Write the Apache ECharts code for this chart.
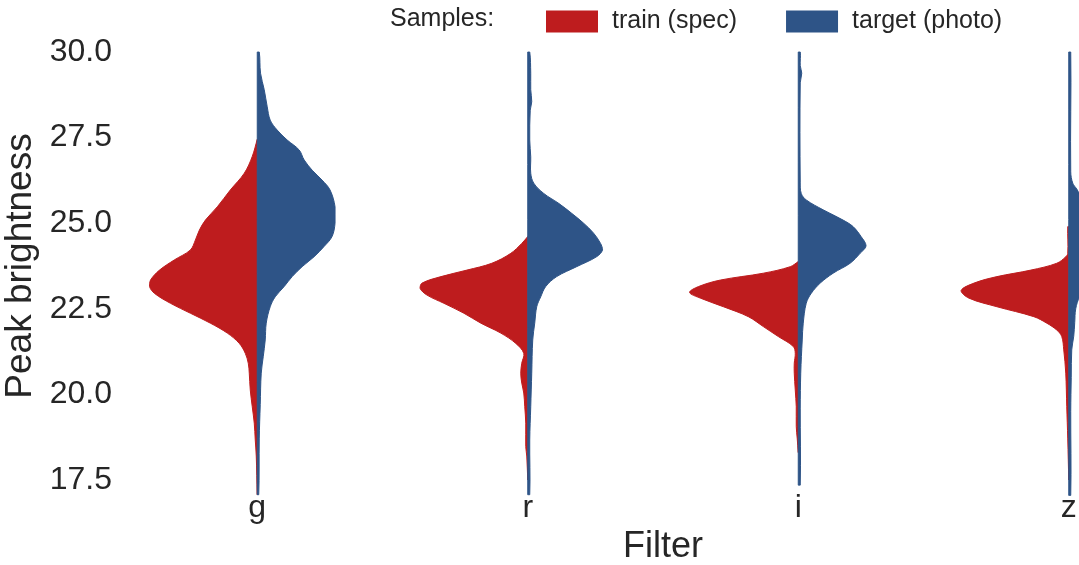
<!DOCTYPE html>
<html>
<head>
<meta charset="utf-8">
<script src="https://cdn.jsdelivr.net/npm/echarts@6.0.0/dist/echarts.min.js"></script>
<style>
  html, body { margin: 0; padding: 0; background: #fff; }
  #chart { width: 1079px; height: 565px; }
</style>
</head>
<body>
<div id="chart"></div>
<script>
// filters on the x axis
const filters = ["g", "r", "i", "z"];
const yTicks = [17.5, 20.0, 22.5, 25.0, 27.5, 30.0];

// half-violin profiles: [peak brightness, density]
const trainG = [[27.45,0],[26.95,5],[26.46,13],[25.97,27],[25.48,40],[25.09,52],[24.8,58],[24.51,62],[24.22,67],[23.93,83],[23.63,98],[23.34,107],[23.15,108],[22.95,103],[22.66,87],[22.37,67],[22.08,47],[21.79,30],[21.49,18],[21.2,12],[20.91,9],[20.62,8],[20.13,7],[19.64,5],[19.16,3],[18.67,2],[18.2,1],[17.07,0]];
const targetG = [[30.0,2],[29.38,3.3],[28.9,7],[28.4,10],[28.01,13],[27.72,20],[27.43,30],[27.14,42],[26.85,47],[26.55,55],[26.26,65],[25.97,73],[25.48,78],[25.0,78],[24.61,75],[24.32,67],[24.02,57],[23.73,45],[23.44,35],[23.15,27],[22.85,18],[22.56,13],[22.08,9],[21.59,8],[21.1,6],[20.62,4],[19.7,3],[18.7,2],[17.07,1.5]];

const trainR = [[24.61,0],[24.41,6],[24.12,17],[23.83,36],[23.63,61],[23.44,87],[23.25,106],[23.1,108],[22.9,101],[22.66,84],[22.37,64],[22.08,47],[21.79,27],[21.49,12],[21.2,4],[20.91,6],[20.62,7],[20.33,6],[20.04,4],[19.64,3],[19.16,2],[18.48,2],[18.2,1],[17.5,0]];
const targetR = [[30.0,2],[29.38,3],[28.9,3],[28.55,4],[28.3,2.5],[27.43,2],[26.94,3],[26.46,3],[26.17,6],[25.87,16],[25.58,31],[25.29,44],[25.0,56],[24.71,66],[24.41,73],[24.22,75],[24.02,69],[23.73,49],[23.44,29],[23.15,18],[22.85,13],[22.56,9],[22.08,7],[21.59,5],[20.62,4],[19.64,3],[18.67,2],[17.07,2]];

const trainI = [[23.88,0],[23.73,8],[23.54,35],[23.34,78],[23.15,100],[22.98,109],[22.81,98],[22.56,75],[22.27,50],[21.98,35],[21.69,20],[21.4,5],[21.2,3],[20.91,4],[20.62,4],[20.13,3],[19.64,2],[19.06,2],[18.7,1],[18.3,0]];
const targetI = [[30.0,2],[29.6,2],[29.38,3.5],[29.1,2],[26.2,2],[25.87,3],[25.68,8],[25.39,25],[25.09,45],[24.9,55],[24.61,63],[24.34,68],[24.12,62],[23.83,52],[23.54,35],[23.25,22],[22.95,13],[22.66,8],[22.08,5],[21.59,4],[20.62,2.5],[19.6,2],[17.35,2]];

const trainZ = [[24.9,1],[24.12,1],[24.02,3],[23.83,12],[23.63,38],[23.44,72],[23.25,95],[23.03,108],[22.81,100],[22.56,72],[22.27,35],[22.08,22],[21.88,12],[21.69,7],[21.3,5],[20.62,3],[19.64,2],[18.7,1],[17.5,0]];
const targetZ = [[30.0,2],[26.5,2],[26.17,4],[26.0,8],[25.77,13],[25.5,30],[25.2,45],[24.9,57],[24.6,64],[24.35,66],[24.05,60],[23.75,48],[23.45,32],[23.15,20],[22.85,11],[22.5,7],[22.1,6],[21.7,5],[21.3,3],[20.5,2.5],[19.5,2],[17.05,2]];

const trainProfiles = [trainG, trainR, trainI, trainZ];
const targetProfiles = [targetG, targetR, targetI, targetZ];

const RED = "#be1c1e";
const BLUE = "#2e5487";
const TEXT = "#262626";
const FONT = "Liberation Sans";

const densityMax = 108.5;  // widest half -> 0.4 of a category
const halfWidth = 0.4;

function halfViolin(profiles, side, color) {
  return function (params, api) {
    const idx = params.dataIndex;
    const prof = profiles[idx];
    const band = api.coord([1, 25])[0] - api.coord([0, 25])[0];
    const pts = prof.map(function (p) {
      const c = api.coord([idx, p[0]]);
      return [c[0] + side * p[1] / densityMax * halfWidth * band, c[1]];
    });
    const last = api.coord([idx, prof[prof.length - 1][0]]);
    const first = api.coord([idx, prof[0][0]]);
    pts.push(last);
    pts.push(first);
    return {
      type: "polygon",
      shape: { points: pts, smooth: 0.35, smoothConstraint: [first, first] },
      style: { fill: color, stroke: color, lineWidth: 1 }
    };
  };
}

const chart = echarts.init(document.getElementById("chart"));

const option = {
  backgroundColor: "#fff",
  animation: false,
  graphic: [
    {
      type: "text",
      left: 390,
      top: 7,
      style: { text: "Samples:", fill: TEXT, font: "25px 'Liberation Sans'" }
    }
  ],
  legend: {
    left: 541,
    top: 4,
    itemWidth: 52,
    itemHeight: 22,
    itemGap: 49,
    icon: "rect",
    data: ["train (spec)", "target (photo)"],
    textStyle: { fontSize: 25, color: TEXT, fontFamily: FONT, padding: [0, 0, 0, 9] }
  },
  grid: {
    left: 122,
    right: -125,
    top: 52,
    bottom: 85,
    outerBoundsMode: "none"
  },
  xAxis: {
    type: "category",
    data: filters,
    name: "Filter",
    nameLocation: "middle",
    nameGap: 47,
    nameTextStyle: { fontSize: 36, color: TEXT, fontFamily: FONT },
    axisLine: { show: false },
    axisTick: { show: false },
    splitLine: { show: false },
    axisLabel: { fontSize: 32, color: TEXT, fontFamily: FONT, margin: 12 }
  },
  yAxis: {
    type: "value",
    min: yTicks[0],
    max: yTicks[yTicks.length - 1],
    interval: 2.5,
    name: "Peak brightness",
    nameLocation: "middle",
    nameRotate: 90,
    nameGap: 74,
    nameTextStyle: { fontSize: 37, color: TEXT, fontFamily: FONT },
    axisLine: { show: false },
    axisTick: { show: false },
    splitLine: { show: false },
    axisLabel: {
      fontSize: 32,
      color: TEXT,
      fontFamily: FONT,
      margin: 10,
      padding: [3, 0, 0, 0],
      formatter: function (v) { return v.toFixed(1); }
    }
  },
  series: [
    {
      name: "train (spec)",
      type: "custom",
      clip: false,
      itemStyle: { color: RED },
      renderItem: halfViolin(trainProfiles, -1, RED),
      encode: { x: 0, y: 1 },
      data: filters.map(function (f, i) { return [i, 25]; })
    },
    {
      name: "target (photo)",
      type: "custom",
      clip: false,
      itemStyle: { color: BLUE },
      renderItem: halfViolin(targetProfiles, 1, BLUE),
      encode: { x: 0, y: 1 },
      data: filters.map(function (f, i) { return [i, 25]; })
    }
  ]
};

chart.setOption(option);
</script>
</body>
</html>
